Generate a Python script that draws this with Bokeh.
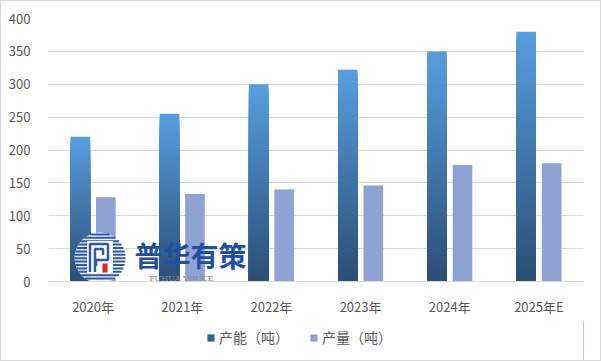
import numpy as np
from bokeh.plotting import figure
from bokeh.layouts import column
from bokeh.models import (Range1d, FixedTicker, Legend, LegendItem, ColumnDataSource)
from bokeh.core.properties import value
from bokeh.embed import file_html
from bokeh.resources import INLINE

years = ["2020年", "2021年", "2022年", "2023年", "2024年", "2025年E"]
capacity = [220, 255, 300, 322, 350, 380]
output = [128, 133, 140, 146, 177, 180]
y_ticks = [0, 50, 100, 150, 200, 250, 300, 350, 400]
series_names = ["产能（吨）", "产量（吨）"]

FONT = "Noto Sans CJK SC"
TXT = "#595959"
GRID = "#D9D9D9"
TOP_C = np.array([87, 158, 223])
BOT_C = np.array([43, 78, 117])
CAP_LEG = "#35628F"
OUT_C = "#8EA3D3"

W, H = 599, 319
LH = 40
ML, MR, MT, MB = 47, 17, 17, 39
FW, FH = W - ML - MR, H - MT - MB
YMAX = 400
NCAT = len(years)

p = figure(x_range=Range1d(0, NCAT), y_range=Range1d(0, YMAX),
           width=W, height=H, output_backend="svg", toolbar_location=None,
           min_border_left=ML, min_border_right=MR, min_border_top=MT,
           min_border_bottom=MB)
p.outline_line_color = None
p.background_fill_color = "white"
p.border_fill_color = "white"

p.xgrid.grid_line_color = None
p.ygrid.grid_line_color = GRID
p.ygrid.grid_line_width = 1

p.yaxis.ticker = FixedTicker(ticks=y_ticks)
p.yaxis.axis_line_color = None
p.yaxis.major_tick_line_color = None
p.yaxis.minor_tick_line_color = None
p.yaxis.major_label_standoff = 12
p.yaxis.major_label_text_font = FONT
p.yaxis.major_label_text_font_size = "13px"
p.yaxis.major_label_text_color = TXT

centers = [i + 0.5 for i in range(NCAT)]
p.xaxis.ticker = FixedTicker(ticks=centers)
p.xaxis.major_label_overrides = {c: y for c, y in zip(centers, years)}
p.xaxis.axis_line_color = GRID
p.xaxis.major_tick_line_color = None
p.xaxis.minor_tick_line_color = None
p.xaxis.major_label_standoff = 9
p.xaxis.major_label_text_font = FONT
p.xaxis.major_label_text_font_size = "13px"
p.xaxis.major_label_text_color = TXT

BW = 0.22
OFF = 0.143

# capacity bars with vertical gradient: nested bars drawn tallest first (no seams)
N = 50
gx, gt, gc = [], [], []
for c0, v in zip(centers, capacity):
    for i in reversed(range(N)):
        f = (i + 0.5) / N
        col = BOT_C + (TOP_C - BOT_C) * f
        gx.append(c0 - OFF)
        gt.append(v * (i + 1) / N)
        gc.append("#%02x%02x%02x" % tuple(int(round(k)) for k in col))
gsrc = ColumnDataSource(dict(x=gx, t=gt, c=gc))
p.vbar(x="x", bottom=0, top="t", width=BW, source=gsrc, fill_color="c", line_color=None)

src = ColumnDataSource(dict(xo=[c + OFF for c in centers], out=output))
p.vbar(x="xo", top="out", width=BW, source=src, fill_color=OUT_C, line_color=None)

# decorative watermark, positioned in frame pixels then converted to data units
kx = NCAT / FW
ky = YMAX / FH
def X(px):
    return px * kx
def Y(py):
    return py * ky

cx, cy, rr = 51.5, 23.5, 25.5
p.scatter([X(cx)], [Y(cy)], size=2 * rr, marker="circle", fill_color="white",
          fill_alpha=0.85, line_color=None)
sx0, sx1, sy = [], [], []
for dy in np.arange(-24, 25, 3.4):
    h = np.sqrt(max(rr ** 2 - dy ** 2, 0))
    sx0.append(X(cx - h)); sx1.append(X(cx + h)); sy.append(Y(cy + dy))
p.segment(x0=sx0, y0=sy, x1=sx1, y1=sy, line_color="#2B5BA8", line_width=2)
p.rect([X(cx)], [Y(cy + 1)], width=X(26), height=Y(32), fill_color="white", line_color=None)
p.multi_line([[X(cx + d) for d in (-10, -10, 8, 8, -4, -4)],
              [X(cx + d) for d in (-5, -5, 3, 3)]],
             [[Y(cy + d) for d in (-14, 14, 14, -2, -2, -8)],
              [Y(cy + d) for d in (-14, 9, 9, 3)]],
             line_color="#2B5BA8", line_width=2.5)
p.rect([X(cx + 5)], [Y(cy - 10)], width=X(5), height=Y(9), fill_color="#D9252B",
       line_color=None)
p.text([X(142)], [Y(26.5)], text=["普华有策"], text_font=value(FONT), text_font_style="bold",
       text_font_size="28px", text_color="#1F4FA0", text_align="center",
       text_baseline="middle")
p.text([X(133)], [Y(3)], text=["PUHUA YOUCE"], text_font=value("DejaVu Serif"),
       text_font_size="8px", text_color="#8A8A8A", text_align="center",
       text_baseline="middle")

# legend strip
lf = figure(width=W, height=LH, output_backend="svg", toolbar_location=None,
            x_axis_location=None, y_axis_location=None,
            x_range=Range1d(0, 1), y_range=Range1d(0, 1),
            min_border=0, min_border_left=0, min_border_right=0,
            min_border_top=0, min_border_bottom=0)
lf.outline_line_color = None
lf.grid.visible = False
dummy = ColumnDataSource(dict(x=[5], top=[5]))
lr1 = lf.vbar(x="x", top="top", width=1, source=dummy, fill_color=CAP_LEG, line_color=None)
lr2 = lf.vbar(x="x", top="top", width=1, source=dummy, fill_color=OUT_C, line_color=None)
legend = Legend(items=[LegendItem(label=series_names[0], renderers=[lr1]),
                       LegendItem(label=series_names[1], renderers=[lr2])],
                orientation="horizontal", location=(158, 13),
                label_text_font=FONT, label_text_font_size="14px",
                label_text_color=TXT, glyph_width=9, glyph_height=9,
                label_standoff=4, spacing=20, padding=2, margin=0,
                border_line_color=None, background_fill_alpha=0)
lf.add_layout(legend, "center")

layout = column(p, lf, spacing=0, styles={"border": "1px solid #D9D9D9"})
open("out.html", "w").write(file_html(layout, INLINE))
